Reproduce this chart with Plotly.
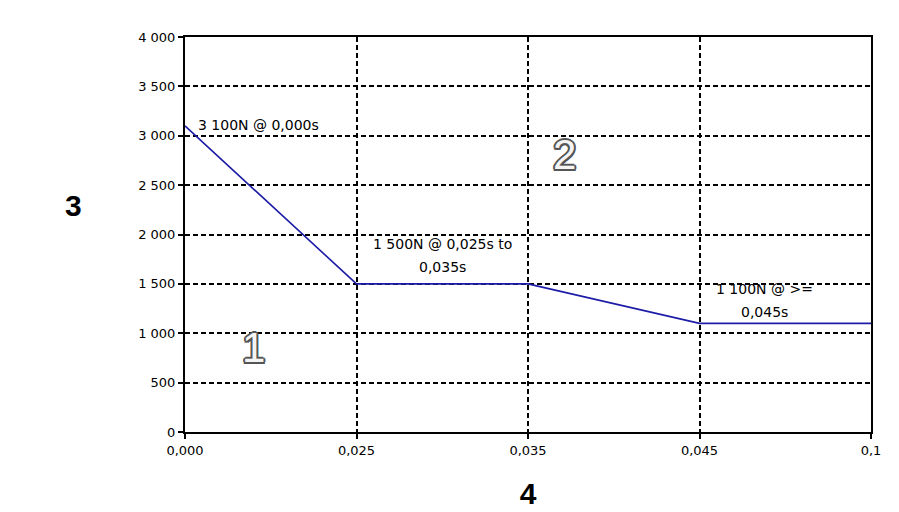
import plotly.graph_objects as go

x_labels = ["0,000", "0,025", "0,035", "0,045", "0,1"]
force_n = [3100, 1500, 1500, 1100, 1100]
y_ticks = [0, 500, 1000, 1500, 2000, 2500, 3000, 3500, 4000]
y_tick_labels = ["0", "500", "1 000", "1 500", "2 000", "2 500", "3 000", "3 500", "4 000"]
x_pos = list(range(len(x_labels)))

FONT = "Liberation Sans, Arial, sans-serif"
TFONT = "DejaVu Sans, Liberation Sans, sans-serif"

fig = go.Figure()
fig.add_trace(go.Scatter(x=x_pos, y=force_n, mode="lines",
                         line=dict(color="#1c1ca6", width=1.6), showlegend=False,
                         hoverinfo="skip"))

ann_font = dict(family=TFONT, size=14, color="black")
fig.add_annotation(x=x_pos[0], y=force_n[0], text="3 100N @ 0,000s", showarrow=False,
                   xanchor="left", yanchor="middle", xshift=11, yshift=1, font=ann_font)
# label for 0,025s-0,035s plateau (two lines)
fig.add_annotation(x=(x_pos[1] + x_pos[2]) / 2, y=force_n[1], text="1 500N @ 0,025s to",
                   showarrow=False, yanchor="middle", yshift=40, font=ann_font)
fig.add_annotation(x=(x_pos[1] + x_pos[2]) / 2, y=force_n[1], text="0,035s",
                   showarrow=False, yanchor="middle", yshift=17, font=ann_font)
# label for >= 0,045s (two lines)
fig.add_annotation(x=x_pos[3] + 0.38, y=force_n[3], text="1 100N @ >=",
                   showarrow=False, yanchor="middle", yshift=34, font=ann_font)
fig.add_annotation(x=x_pos[3] + 0.38, y=force_n[3], text="0,045s",
                   showarrow=False, yanchor="middle", yshift=11, font=ann_font)

outline = dict(family=FONT, size=42, color="#f4f4f4",
               shadow="1.5px 1.5px 0 #555, -1.5px -1.5px 0 #555, 1.5px -1.5px 0 #555, -1.5px 1.5px 0 #555, "
                      "2px 0 0 #555, -2px 0 0 #555, 0 2px 0 #555, 0 -2px 0 #555")
fig.add_annotation(x=0.40, y=860, text="1", showarrow=False, font=outline)
fig.add_annotation(x=2.21, y=2815, text="2", showarrow=False, font=outline)

grid_dash = "5px,3px"
common = dict(showgrid=True, gridcolor="black", gridwidth=1.5, griddash=grid_dash,
              showline=True, linecolor="black", linewidth=2, mirror=True,
              ticks="outside", ticklen=5, tickcolor="black", tickwidth=1.5,
              tickfont=dict(family=TFONT, size=13, color="black"), zeroline=False)
fig.update_xaxes(range=[0, 4], tickvals=x_pos, ticktext=x_labels,
                 title=dict(text="<b>4</b>", font=dict(family=FONT, size=30, color="black"), standoff=26),
                 **common)
fig.update_yaxes(range=[0, 4000], tickvals=y_ticks, ticktext=y_tick_labels, **common)
fig.add_annotation(xref="paper", yref="paper", x=(65 - 177) / 686, y=1 - (197 - 29) / 395,
                   xanchor="center", yanchor="middle", text="<b>3</b>", showarrow=False,
                   font=dict(family=FONT, size=30, color="black"))

fig.update_layout(width=899, height=512, margin=dict(l=177, r=36, t=29, b=88),
                  plot_bgcolor="white", paper_bgcolor="white")
fig.write_html("out.html")
